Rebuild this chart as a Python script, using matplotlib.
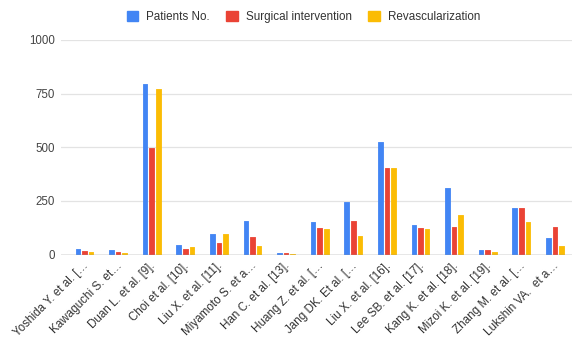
import matplotlib
matplotlib.use("Agg")
import matplotlib.pyplot as plt
import numpy as np
from matplotlib.patches import Patch
from matplotlib.transforms import blended_transform_factory, ScaledTranslation

plt.rcParams["font.family"] = ["Liberation Sans", "DejaVu Sans"]

studies = [
    "Yoshida Y. et al. [\u2026",
    "Kawaguchi S. et\u2026",
    "Duan L. et al. [9].",
    "Choi et al. [10].",
    "Liu X. et al. [11].",
    "Miyamoto S. et a\u2026",
    "Han C. et al. [13].",
    "Huang Z. et al. [\u2026",
    "Jang DK. Et al. [\u2026",
    "Liu X. et al. [16].",
    "Lee SB. et al. [17].",
    "Kang K. et al. [18].",
    "Mizoi K. et al. [19].",
    "Zhang M. et al. [\u2026",
    "Lukshin VA.  et a\u2026",
]
patients = [26, 21, 795, 44, 94, 156, 5, 152, 246, 524, 139, 311, 20, 215, 78]
surgical = [16, 10, 498, 26, 54, 80, 5, 125, 156, 402, 125, 130, 20, 215, 130]
revascularization = [10, 6, 770, 34, 94, 40, 4, 119, 88, 402, 119, 183, 10, 152, 38]

series_names = ["Patients No.", "Surgical intervention", "Revascularization"]
series_values = [patients, surgical, revascularization]
colors = ["#4285F4", "#EA4335", "#FBBC04"]
y_ticks = [0, 250, 500, 750, 1000]

W, H = 574, 339
fig = plt.figure(figsize=(W / 100, H / 100), dpi=100)
ax = fig.add_axes([61 / W, 1 - 254.5 / H, 511 / W, 214.5 / H])

x = np.arange(len(studies))
offsets = [-0.197, 0.0, 0.197]
bar_w = 0.14
for vals, off, col in zip(series_values, offsets, colors):
    ax.bar(x + off, vals, width=bar_w, color=col, edgecolor=col,
           linewidth=0.6, joinstyle="round", zorder=3)

ax.set_xlim(-0.70, 14.51)
ax.set_ylim(0, 1000)
ax.set_yticks(y_ticks)
ax.set_yticklabels([str(v) for v in y_ticks])
ax.tick_params(axis="y", length=0, pad=4.3, labelsize=8.3, labelcolor="#444444")
ax.set_xticks([])
ax.grid(axis="y", color="#e3e3e3", linewidth=0.9, zorder=0)
for s in ax.spines.values():
    s.set_visible(False)
ax.axhline(0, color="#9a9a9a", linewidth=1.0, zorder=4)

# rotated category labels under each group
trans = blended_transform_factory(ax.transData, ax.transAxes)
shift = ScaledTranslation(3.0 / 72, -8.3 / 72, fig.dpi_scale_trans)
for i, lab in enumerate(studies):
    ax.text(i, 0, lab, transform=trans + shift, rotation=45,
            rotation_mode="anchor", ha="right", va="baseline",
            fontsize=8.4, color="#333333")

handles = [Patch(facecolor=c, edgecolor=c) for c in colors]
fig.legend(handles, series_names, loc="center left",
           bbox_to_anchor=(126.5 / W, 1 - 17 / H), ncol=3, frameon=False,
           fontsize=8.4, handlelength=1.0, handleheight=1.0,
           handletextpad=0.7, columnspacing=1.4, borderpad=0,
           borderaxespad=0, labelcolor="#333333")

fig.savefig("out.png", dpi=100)
